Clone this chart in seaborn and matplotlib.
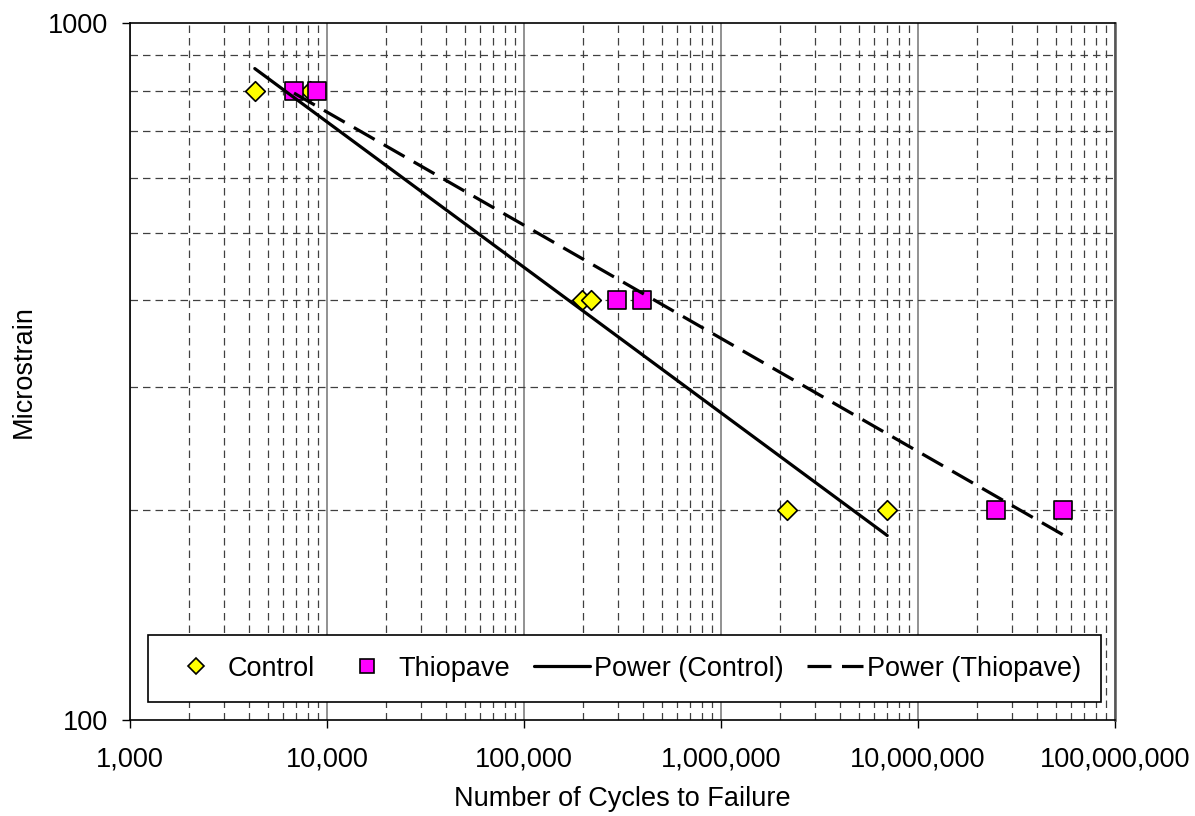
import numpy as np
import pandas as pd
import matplotlib
matplotlib.use("Agg")
import matplotlib.pyplot as plt
from matplotlib.lines import Line2D
from matplotlib.ticker import FixedLocator, FuncFormatter, NullFormatter
import seaborn as sns

# Fatigue test results: cycles to failure at each strain level
control_cycles = [4300, 8200, 198000, 218000, 2170000, 6980000]
control_strain = [800, 800, 400, 400, 200, 200]
thiopave_cycles = [6800, 8900, 295000, 399000, 24900000, 54500000]
thiopave_strain = [800, 800, 400, 400, 200, 200]

x_ticks = [1e3, 1e4, 1e5, 1e6, 1e7, 1e8]
y_ticks = [100, 1000]

sns.set_theme(style="white")
plt.rcParams["font.family"] = ["Liberation Sans", "DejaVu Sans"]
plt.rcParams["text.color"] = "black"
plt.rcParams["axes.labelcolor"] = "black"
plt.rcParams["xtick.color"] = "black"
plt.rcParams["ytick.color"] = "black"

FS = 19.5

fig = plt.figure(figsize=(11.95, 8.16), dpi=100)
ax = fig.add_axes([130 / 1195, 96 / 816, 985 / 1195, 697 / 816])

ax.set_xscale("log")
ax.set_yscale("log")
ax.set_xlim(1e3, 1e8)
ax.set_ylim(100, 1000)

# grid: solid decades on x, dashed minor lines on both axes
ax.xaxis.set_major_locator(FixedLocator(x_ticks))
ax.yaxis.set_major_locator(FixedLocator(y_ticks))
x_minor = [m * 10 ** e for e in range(3, 8) for m in range(2, 10)]
y_minor = [m * 100 for m in range(2, 10)]
ax.xaxis.set_minor_locator(FixedLocator(x_minor))
ax.yaxis.set_minor_locator(FixedLocator(y_minor))
ax.xaxis.set_minor_formatter(NullFormatter())
ax.yaxis.set_minor_formatter(NullFormatter())
ax.xaxis.set_major_formatter(FuncFormatter(lambda v, p: f"{int(round(v)):,}"))
ax.yaxis.set_major_formatter(FuncFormatter(lambda v, p: f"{int(round(v))}"))

ax.grid(which="major", axis="x", color="#7f7f7f", linewidth=1.2, linestyle="-")
ax.grid(which="minor", axis="both", color="#404040", linewidth=0.9,
        linestyle=(0, (6, 4)))
ax.set_axisbelow(True)

ax.tick_params(which="major", direction="out", length=6, width=1, color="black",
               labelsize=FS, labelcolor="black",
               bottom=True, left=True, top=False, right=False)
ax.tick_params(axis="x", which="major", pad=13)
ax.tick_params(axis="y", which="major", pad=10)
ax.tick_params(which="minor", length=0)

for side in ["left", "bottom", "top"]:
    ax.spines[side].set_color("black")
    ax.spines[side].set_linewidth(1.2)
ax.spines["right"].set_color("#555555")
ax.spines["right"].set_linewidth(1.8)

df_c = pd.DataFrame({"cycles": control_cycles, "strain": control_strain})
df_t = pd.DataFrame({"cycles": thiopave_cycles, "strain": thiopave_strain})

sns.scatterplot(data=df_c, x="cycles", y="strain", marker="D", s=100,
                color="#FFFF00", edgecolor="black", linewidth=1.2, ax=ax,
                zorder=3, legend=False)
sns.scatterplot(data=df_t, x="cycles", y="strain", marker="s", s=150,
                color="#FF00FF", edgecolor="black", linewidth=1.2, ax=ax,
                zorder=4, legend=False)


def power_fit(xs, ys):
    lx, ly = np.log10(xs), np.log10(ys)
    b, a = np.polyfit(lx, ly, 1)
    xe = np.array([min(xs), max(xs)], dtype=float)
    return pd.DataFrame({"cycles": xe, "strain": 10 ** (a + b * np.log10(xe))})


fit_c = power_fit(control_cycles, control_strain)
fit_t = power_fit(thiopave_cycles, thiopave_strain)

sns.lineplot(data=fit_c, x="cycles", y="strain", color="black", linewidth=2.3,
             ax=ax, zorder=5)
sns.lineplot(data=fit_t, x="cycles", y="strain", color="black",
             linewidth=2.3, ax=ax, zorder=5)
ax.lines[-1].set_dashes((7.5, 3.3))

ax.set_xlabel("Number of Cycles to Failure", fontsize=FS, labelpad=10,
              color="black")
ax.set_ylabel("Microstrain", fontsize=FS, labelpad=7.5, color="black")

handles = [
    Line2D([], [], linestyle="none", marker="D", markersize=8,
           markerfacecolor="#FFFF00", markeredgecolor="black", markeredgewidth=1.2),
    Line2D([], [], linestyle="none", marker="s", markersize=10.5,
           markerfacecolor="#FF00FF", markeredgecolor="black", markeredgewidth=1.2),
    Line2D([], [], color="black", linewidth=2.3),
    Line2D([], [], color="black", linewidth=2.3, dashes=(7.5, 3.3)),
]
labels = ["Control", "Thiopave", "Power (Control)", "Power (Thiopave)"]
leg = ax.legend(handles, labels, loc="lower left",
                bbox_to_anchor=(18 / 985, 18 / 697, 953 / 985, 80 / 697),
                mode="expand", ncol=4, fontsize=FS, frameon=True, fancybox=False,
                edgecolor="black", framealpha=1, handlelength=2.05,
                handletextpad=0.15, borderaxespad=0, borderpad=0.75,
                columnspacing=0.8)
leg.get_frame().set_linewidth(1.2)
leg.set_zorder(10)
for t in leg.get_texts():
    t.set_color("black")

fig.savefig("out.png", dpi=100)
